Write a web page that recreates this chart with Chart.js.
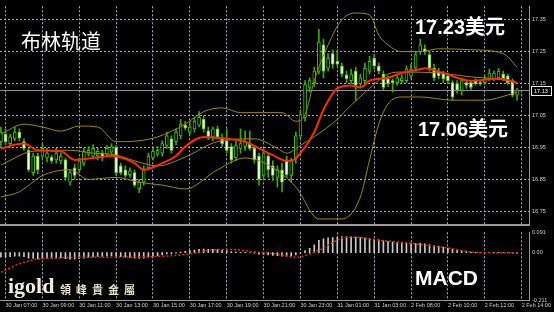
<!doctype html>
<html>
<head>
<meta charset="UTF-8" />
<title>布林轨道</title>
<script src="https://cdn.jsdelivr.net/npm/chart.js"></script>
<style>
  html, body { margin: 0; padding: 0; background: #000; }
  #wrap { position: relative; width: 554px; height: 312px; overflow: hidden; background: #000; }
  canvas { position: absolute; left: 0; }
  #main { top: 0; }
  #macd { top: 226px; }
  .txt { position: absolute; color: #fff; white-space: nowrap; line-height: 1; }
</style>
</head>
<body>
<div id="wrap">
  <canvas id="main" width="554" height="231"></canvas>
  <canvas id="macd" width="554" height="86"></canvas>
  <div class="txt" style="left:21px;top:31px;font-size:20px;font-family:'Noto Sans CJK SC';">布林轨道</div>
  <div class="txt" style="left:415px;top:17px;font-size:20px;font-weight:bold;font-family:'Liberation Sans','Noto Sans CJK SC';">17.23美元</div>
  <div class="txt" style="left:418px;top:119px;font-size:20px;font-weight:bold;font-family:'Liberation Sans','Noto Sans CJK SC';">17.06美元</div>
  <div class="txt" style="left:415px;top:267px;font-size:21px;font-weight:bold;font-family:'Liberation Sans';">MACD</div>
  <div class="txt" style="left:8px;top:275px;font-size:22px;font-weight:bold;color:#f3ecd8;font-family:'Liberation Serif';">igold</div>
  <div class="txt" style="left:60px;top:284px;font-size:11px;font-weight:bold;color:#e8e0c8;letter-spacing:5px;font-family:'Noto Sans CJK TC';">領峰貴金屬</div>
</div>

<script>
// 15 minute candles, bar index 0..112
var opens = [
  16.968, 16.992, 16.962, 16.977, 16.998, 16.968, 16.941, 16.871, 16.923, 16.923,
  16.917, 16.920, 16.911, 16.908, 16.911, 16.841, 16.886, 16.880, 16.901, 16.929,
  16.923, 16.923, 16.932, 16.929, 16.935, 16.950, 16.892, 16.880, 16.865, 16.871,
  16.820, 16.841, 16.886, 16.917, 16.929, 16.932, 16.956, 16.977, 16.968, 16.986,
  17.020, 16.998, 17.008, 17.020, 17.038, 17.002, 16.983, 17.008, 16.980, 16.971,
  16.953, 16.917, 16.947, 16.953, 16.962, 16.947, 16.923, 16.862, 16.923, 16.892,
  16.856, 16.880, 16.911, 16.862, 16.917, 16.986, 17.044, 17.138, 17.153, 17.189,
  17.271, 17.198, 17.244, 17.220, 17.205, 17.177, 17.159, 17.189, 17.150, 17.159,
  17.189, 17.229, 17.205, 17.180, 17.165, 17.159, 17.153, 17.159, 17.159, 17.174,
  17.198, 17.250, 17.259, 17.241, 17.198, 17.189, 17.183, 17.174, 17.153, 17.150,
  17.129, 17.153, 17.153, 17.159, 17.153, 17.153, 17.165, 17.165, 17.168, 17.180,
  17.174, 17.159, 17.114
];
var highs = [
  17.014, 17.008, 16.992, 17.014, 17.008, 16.977, 16.947, 16.932, 16.932, 16.962,
  16.947, 16.926, 16.947, 16.932, 16.917, 16.880, 16.898, 16.917, 16.947, 16.953,
  16.959, 16.947, 16.941, 16.956, 16.962, 16.956, 16.901, 16.892, 16.886, 16.880,
  16.850, 16.892, 16.932, 16.947, 16.953, 16.971, 16.998, 16.986, 17.008, 17.038,
  17.032, 17.032, 17.044, 17.062, 17.050, 17.014, 17.014, 17.017, 16.992, 17.008,
  16.962, 16.968, 17.008, 17.002, 17.002, 16.956, 16.932, 16.947, 16.932, 16.908,
  16.892, 16.901, 16.923, 16.917, 16.998, 17.068, 17.159, 17.168, 17.202, 17.320,
  17.289, 17.244, 17.256, 17.256, 17.214, 17.189, 17.195, 17.202, 17.180, 17.214,
  17.235, 17.241, 17.214, 17.189, 17.174, 17.165, 17.174, 17.177, 17.205, 17.211,
  17.250, 17.289, 17.271, 17.250, 17.211, 17.198, 17.189, 17.183, 17.159, 17.159,
  17.168, 17.159, 17.159, 17.165, 17.159, 17.174, 17.195, 17.189, 17.198, 17.189,
  17.180, 17.165, 17.135
];
var lows = [
  16.953, 16.959, 16.953, 16.971, 16.971, 16.941, 16.874, 16.862, 16.868, 16.911,
  16.905, 16.901, 16.901, 16.898, 16.847, 16.832, 16.850, 16.871, 16.892, 16.923,
  16.917, 16.911, 16.908, 16.923, 16.929, 16.862, 16.865, 16.856, 16.856, 16.826,
  16.808, 16.832, 16.880, 16.911, 16.923, 16.923, 16.947, 16.932, 16.959, 16.977,
  17.005, 16.989, 16.998, 17.014, 16.998, 16.974, 16.971, 16.977, 16.953, 16.932,
  16.901, 16.908, 16.932, 16.941, 16.941, 16.901, 16.832, 16.850, 16.856, 16.847,
  16.826, 16.811, 16.856, 16.841, 16.901, 16.977, 17.032, 17.123, 17.141, 17.180,
  17.168, 17.189, 17.198, 17.205, 17.171, 17.153, 17.150, 17.098, 17.141, 17.153,
  17.180, 17.195, 17.180, 17.129, 17.141, 17.123, 17.144, 17.153, 17.153, 17.165,
  17.189, 17.241, 17.241, 17.189, 17.159, 17.165, 17.153, 17.150, 17.098, 17.120,
  17.114, 17.135, 17.129, 17.144, 17.144, 17.147, 17.159, 17.159, 17.162, 17.159,
  17.147, 17.108, 17.098
];
var closes = [
  16.998, 16.968, 16.983, 16.998, 16.980, 16.947, 16.880, 16.923, 16.880, 16.947,
  16.932, 16.908, 16.932, 16.923, 16.856, 16.871, 16.862, 16.908, 16.938, 16.941,
  16.947, 16.938, 16.917, 16.947, 16.953, 16.871, 16.871, 16.862, 16.877, 16.832,
  16.841, 16.880, 16.923, 16.938, 16.941, 16.962, 16.986, 16.941, 16.998, 17.023,
  17.011, 17.014, 17.032, 17.044, 17.008, 16.983, 17.008, 16.983, 16.962, 16.941,
  16.911, 16.956, 16.962, 16.968, 16.947, 16.911, 16.850, 16.932, 16.880, 16.862,
  16.880, 16.841, 16.865, 16.908, 16.986, 17.053, 17.147, 17.159, 17.189, 17.280,
  17.189, 17.229, 17.211, 17.211, 17.180, 17.165, 17.180, 17.144, 17.168, 17.198,
  17.220, 17.205, 17.189, 17.138, 17.150, 17.153, 17.168, 17.168, 17.195, 17.195,
  17.241, 17.271, 17.250, 17.198, 17.168, 17.174, 17.165, 17.159, 17.108, 17.129,
  17.159, 17.144, 17.138, 17.150, 17.150, 17.165, 17.183, 17.183, 17.189, 17.165,
  17.153, 17.114, 17.130
];
var lastPrice = 17.13;

// bands as [bar index, price]
var bbUpper = [[0,16.992],[5,17.023],[9,17.014],[13,17.001],[17,17.017],[21,17.014],[25,16.968],
  [30,16.971],[34,16.983],[40,17.023],[44,17.062],[48,17.074],[52,17.059],[57,17.059],[61,17.059],
  [64,17.032],[66,17.053],[68,17.159],[71,17.271],[74,17.350],[77,17.371],[80,17.365],[82,17.302],
  [84,17.271],[87,17.250],[91,17.250],[95,17.259],[102,17.256],[109,17.244],[112,17.202]];
var bbMiddle = [[0,16.895],[7,16.938],[15,16.941],[20,16.932],[25,16.926],[29,16.908],[34,16.892],
  [40,16.920],[47,16.968],[55,16.977],[60,16.947],[62,16.932],[65,16.956],[73,17.038],[75,17.068],
  [80,17.135],[84,17.180],[87,17.186],[95,17.183],[102,17.171],[109,17.162],[112,17.153]];
var bbLower = [[0,16.795],[4,16.811],[9,16.862],[15,16.880],[19,16.850],[25,16.856],[30,16.841],
  [35,16.832],[40,16.820],[47,16.880],[53,16.917],[58,16.895],[64,16.826],[69,16.726],[74,16.726],
  [78,16.795],[80,16.911],[82,17.023],[84,17.086],[87,17.108],[91,17.108],[98,17.098],[105,17.098],
  [110,17.114],[112,17.123]];
var maLine = [[0,16.947],[5,16.962],[8,16.941],[13,16.938],[16,16.911],[20,16.917],[24,16.923],
  [29,16.901],[31,16.880],[35,16.901],[38,16.923],[40,16.953],[44,16.983],[49,16.977],[53,16.968],
  [56,16.947],[59,16.926],[62,16.908],[63,16.908],[65,16.932],[68,16.998],[70,17.068],[73,17.135],
  [76,17.144],[78,17.138],[80,17.159],[84,17.168],[87,17.183],[91,17.195],[92,17.198],[96,17.183],
  [102,17.159],[108,17.165],[112,17.153]];

// MACD panel
var macdHist = [
  -0.020, -0.020, -0.018, -0.016, -0.016, -0.018, -0.024, -0.026, -0.028, -0.026,
  -0.025, -0.025, -0.024, -0.023, -0.027, -0.029, -0.029, -0.027, -0.024, -0.021,
  -0.019, -0.017, -0.017, -0.015, -0.013, -0.016, -0.018, -0.020, -0.021, -0.024,
  -0.026, -0.024, -0.020, -0.016, -0.013, -0.010, -0.006, -0.005, -0.002, 0.003,
  0.006, 0.009, 0.012, 0.015, 0.016, 0.015, 0.015, 0.014, 0.012, 0.009,
  0.005, 0.003, 0.002, 0.002, 0.001, -0.002, -0.007, -0.008, -0.010, -0.012,
  -0.013, -0.015, -0.016, -0.016, -0.010, -0.002, 0.010, 0.020, 0.035, 0.055,
  0.062, 0.066, 0.068, 0.070, 0.072, 0.072, 0.071, 0.070, 0.067, 0.065,
  0.063, 0.060, 0.057, 0.053, 0.050, 0.047, 0.045, 0.043, 0.042, 0.041,
  0.041, 0.042, 0.040, 0.036, 0.032, 0.029, 0.025, 0.021, 0.016, 0.012,
  0.008, 0.005, 0.003, 0.002, 0.001, 0.001, 0.002, 0.002, 0.002, 0.001,
  0.000, -0.002, -0.003
];
var macdSignal = [[0,-0.087],[4,-0.050],[9,-0.026],[22,-0.020],[36,-0.015],[42,-0.002],[46,0.013],
  [50,0.014],[56,0.002],[60,-0.006],[64,-0.020],[69,0.011],[73,0.056],[75,0.069],[77,0.069],
  [82,0.056],[89,0.042],[96,0.024],[103,0.002],[112,-0.002]];

// axes
var xTickIdx = [1, 9, 17, 25, 33, 41, 49, 57, 65, 73, 81, 89, 97, 105, 113];
var xTickLabels = ['30 Jan 07:00', '30 Jan 09:00', '30 Jan 11:00', '30 Jan 13:00', '30 Jan 15:00',
  '30 Jan 17:00', '30 Jan 19:00', '30 Jan 21:00', '30 Jan 23:00', '31 Jan 01:00', '31 Jan 03:00',
  '2 Feb 08:00', '2 Feb 10:00', '2 Feb 12:00', '2 Feb 14:00'];
var yTicks = [16.75, 16.85, 16.95, 17.05, 17.15, 17.25, 17.35];
var macdTicks = [0.091, 0, -0.211];
var macdTickLabels = ['0.091', '0.00', '-0.211'];

var GRID = '#a3adba';
var AXIS = '#9a9a9a';
var LABEL = '#cfcfcf';
var tickFont = { family: 'Liberation Sans', size: 5.5 };

var idx = opens.map(function (v, i) { return i; });
var toXY = function (arr) { return arr.map(function (p) { return { x: p[0], y: p[1] }; }); };

var xScale = function (showLabels, h) {
  return {
    type: 'linear', min: -0.2, max: 114.6, offset: false,
    afterBuildTicks: function (s) { s.ticks = xTickIdx.map(function (v) { return { value: v }; }); },
    afterFit: function (s) { s.height = h; s.paddingLeft = 0; s.paddingRight = 0; },
    grid: { color: GRID, lineWidth: 1, drawTicks: false, offset: false },
    border: { display: true, color: AXIS, width: showLabels ? 1 : 2, dash: [2, 2] },
    ticks: {
      display: showLabels, autoSkip: false, maxRotation: 0, align: 'start', padding: 2,
      color: LABEL, font: tickFont,
      callback: function (v, i) { return xTickLabels[i]; }
    }
  };
};

var priceLine = {
  id: 'priceLine',
  beforeDatasetsDraw: function (chart) {
    var a = chart.chartArea, y = chart.scales.y, ctx = chart.ctx;
    var py = Math.round(y.getPixelForValue(lastPrice)) + 0.5;
    ctx.save();
    ctx.strokeStyle = '#8c8c8c'; ctx.lineWidth = 1;
    ctx.beginPath(); ctx.moveTo(a.left, py); ctx.lineTo(a.right, py); ctx.stroke();
    ctx.restore();
  },
  afterDraw: function (chart) {
    var a = chart.chartArea, y = chart.scales.y, ctx = chart.ctx;
    var py = Math.round(y.getPixelForValue(lastPrice)) + 0.5;
    ctx.save();
    ctx.fillStyle = '#000'; ctx.fillRect(a.right + 2, py - 4, 21, 9);
    ctx.strokeStyle = '#e8e8e8'; ctx.lineWidth = 1; ctx.strokeRect(a.right + 2.5, py - 4, 20, 9);
    ctx.fillStyle = '#fff'; ctx.font = '5.5px "Liberation Sans"'; ctx.textBaseline = 'middle';
    ctx.fillText(lastPrice.toFixed(2), a.right + 5, py + 0.5);
    ctx.restore();
  }
};

new Chart(document.getElementById('main').getContext('2d'), {
  data: {
    datasets: [
      {
        type: 'line', label: 'MA', data: toXY(maLine), order: 0,
        borderColor: '#ff2a00', borderWidth: 2, pointRadius: 0, cubicInterpolationMode: 'monotone'
      },
      {
        type: 'line', label: 'BB upper', data: toXY(bbUpper), order: 1,
        borderColor: '#9c8a00', borderWidth: 1, pointRadius: 0, cubicInterpolationMode: 'monotone'
      },
      {
        type: 'line', label: 'BB middle', data: toXY(bbMiddle), order: 1,
        borderColor: '#9c8a00', borderWidth: 1, pointRadius: 0, cubicInterpolationMode: 'monotone'
      },
      {
        type: 'line', label: 'BB lower', data: toXY(bbLower), order: 1,
        borderColor: '#9c8a00', borderWidth: 1, pointRadius: 0, cubicInterpolationMode: 'monotone'
      },
      {
        type: 'bar', label: 'body', order: 2, grouped: false,
        data: idx.map(function (i) { return { x: i, y: [opens[i], closes[i]] }; }),
        barThickness: 3, minBarLength: 1, borderWidth: 1, borderSkipped: false,
        backgroundColor: function (c) { return closes[c.dataIndex] >= opens[c.dataIndex] ? '#000' : '#f4fff0'; },
        borderColor: function (c) { return closes[c.dataIndex] >= opens[c.dataIndex] ? '#3cc000' : '#66c82a'; }
      },
      {
        type: 'bar', label: 'wick', order: 3, grouped: false,
        data: idx.map(function (i) { return { x: i, y: [lows[i], highs[i]] }; }),
        barThickness: 1, backgroundColor: '#3fa800'
      }
    ]
  },
  options: {
    responsive: false, animation: false, devicePixelRatio: 1, events: [],
    layout: { padding: { top: 3, left: 0, right: 0, bottom: 0 } },
    plugins: { legend: { display: false }, tooltip: { enabled: false } },
    scales: {
      x: xScale(false, 2),
      y: {
        type: 'linear', position: 'right', min: 16.708, max: 17.392,
        afterBuildTicks: function (s) { s.ticks = yTicks.map(function (v) { return { value: v }; }); },
        afterFit: function (s) { s.width = 25; },
        grid: { color: GRID, lineWidth: 1, drawTicks: false },
        border: { display: true, color: AXIS, width: 1, dash: [2, 2] },
        ticks: { color: LABEL, font: tickFont, padding: 3, callback: function (v) { return v.toFixed(2); } }
      }
    }
  },
  plugins: [priceLine]
});

new Chart(document.getElementById('macd').getContext('2d'), {
  data: {
    datasets: [
      {
        type: 'line', label: 'signal', data: toXY(macdSignal), order: 0,
        borderColor: '#f02800', borderWidth: 1.5, borderDash: [2, 2], pointRadius: 0,
        cubicInterpolationMode: 'monotone'
      },
      {
        type: 'bar', label: 'MACD', order: 1, grouped: false,
        data: idx.map(function (i) { return { x: i, y: macdHist[i] }; }),
        barThickness: 1, backgroundColor: '#c8c8c8'
      }
    ]
  },
  options: {
    responsive: false, animation: false, devicePixelRatio: 1, events: [],
    layout: { padding: { top: 6, left: 0, right: 0, bottom: 0 } },
    plugins: { legend: { display: false }, tooltip: { enabled: false } },
    scales: {
      x: xScale(true, 12),
      y: {
        type: 'linear', position: 'right', min: -0.211, max: 0.091,
        afterBuildTicks: function (s) { s.ticks = macdTicks.map(function (v) { return { value: v }; }); },
        afterFit: function (s) { s.width = 25; },
        grid: { display: false, drawTicks: false },
        border: { display: true, color: AXIS, width: 1 },
        ticks: { color: LABEL, font: tickFont, padding: 3, callback: function (v, i) { return macdTickLabels[i]; } }
      }
    }
  }
});
</script>
</body>
</html>
